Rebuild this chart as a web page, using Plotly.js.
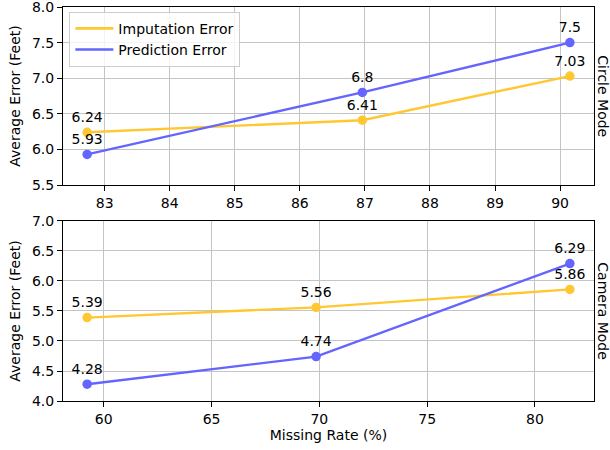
<!DOCTYPE html>
<html>
<head>
<meta charset="utf-8">
<script src="https://cdn.plot.ly/plotly-3.0.1.min.js"></script>
<style>html,body{margin:0;padding:0;background:#fff;}#chart{width:610px;height:450px;}</style>
</head>
<body>
<div id="chart"></div>
<script>
// Circle Mode data
const circleMissingRate = [82.73, 86.96, 90.15];
const circleImputation = [6.24, 6.41, 7.03];
const circlePrediction = [5.93, 6.8, 7.5];
// Camera Mode data
const cameraMissingRate = [59.23, 69.85, 81.62];
const cameraImputation = [5.39, 5.56, 5.86];
const cameraPrediction = [4.28, 4.74, 6.29];

const seriesNames = ["Imputation Error", "Prediction Error"];
const panelLabels = ["Circle Mode", "Camera Mode"];
const yTitle = "Average Error (Feet)";
const xTitle = "Missing Rate (%)";

const YELLOW = "#ffc832";
const BLUE = "#6464ff";
const FONT = "DejaVu Sans, sans-serif";
const FS = 14;

function pad(arr) {
  const mn = Math.min(...arr), mx = Math.max(...arr), s = mx - mn;
  return [mn - 0.05 * s, mx + 0.05 * s];
}

function trace(x, y, name, color, xa, ya) {
  return {
    x: x, y: y, name: name, xaxis: xa, yaxis: ya, showlegend: false,
    mode: "lines+markers+text", type: "scatter",
    text: y.map(v => String(v)), textposition: "top center",
    textfont: {family: FONT, size: FS, color: "#000"},
    line: {color: color, width: 2.4},
    marker: {color: color, size: 9.5},
    cliponaxis: false
  };
}
// legend proxies (line only, like the reference legend)
function legendProxy(name, color) {
  return {x: [null], y: [null], name: name, mode: "lines", type: "scatter",
    xaxis: "x", yaxis: "y", line: {color: color, width: 2.6}, showlegend: true, hoverinfo: "skip"};
}

const data = [
  trace(circleMissingRate, circleImputation, seriesNames[0], YELLOW, "x", "y"),
  trace(circleMissingRate, circlePrediction, seriesNames[1], BLUE, "x", "y"),
  trace(cameraMissingRate, cameraImputation, seriesNames[0], YELLOW, "x2", "y2"),
  trace(cameraMissingRate, cameraPrediction, seriesNames[1], BLUE, "x2", "y2"),
  legendProxy(seriesNames[0], YELLOW),
  legendProxy(seriesNames[1], BLUE)
];

const axCommon = {
  showline: true, linecolor: "#000", linewidth: 1, mirror: true,
  ticks: "outside", ticklen: 5, tickwidth: 1, tickcolor: "#000",
  showgrid: true, gridcolor: "#c4c4c4", gridwidth: 1, zeroline: false,
  ticklabeloverflow: "allow",
  tickfont: {family: FONT, size: FS, color: "#000"}
};

const layout = {
  width: 610, height: 450,
  margin: {l: 63, r: 16, t: 7, b: 49},
  paper_bgcolor: "#fff", plot_bgcolor: "#fff",
  font: {family: FONT, size: FS, color: "#000"},
  xaxis: Object.assign({}, axCommon, {domain: [0, 1], anchor: "y", range: pad(circleMissingRate), dtick: 1, tick0: 0}),
  yaxis: Object.assign({}, axCommon, {domain: [0.5482, 1], anchor: "x", range: [5.5, 8.0001], dtick: 0.5, tick0: 0, tickformat: ".1f",
    title: {text: yTitle, font: {family: FONT, size: FS, color: "#000"}, standoff: 8}}),
  xaxis2: Object.assign({}, axCommon, {domain: [0, 1], anchor: "y2", range: pad(cameraMissingRate), dtick: 5, tick0: 0,
    title: {text: xTitle, font: {family: FONT, size: FS, color: "#000"}, standoff: 4}}),
  yaxis2: Object.assign({}, axCommon, {domain: [0, 0.4569], anchor: "x2", range: [4.0, 7.0001], dtick: 0.5, tick0: 0, tickformat: ".1f",
    title: {text: yTitle, font: {family: FONT, size: FS, color: "#000"}, standoff: 8}}),
  legend: {
    x: 0.012, y: 0.988, xanchor: "left", yanchor: "top",
    bgcolor: "rgba(255,255,255,0.8)", bordercolor: "#cccccc", borderwidth: 1,
    itemwidth: 38,
    font: {family: FONT, size: FS, color: "#000"}
  },
  annotations: [
    {text: panelLabels[0], xref: "paper", yref: "paper", x: 1.0164, y: 0.7741, xanchor: "center", yanchor: "middle",
     textangle: 90, showarrow: false, font: {family: FONT, size: FS, color: "#000"}},
    {text: panelLabels[1], xref: "paper", yref: "paper", x: 1.0164, y: 0.2284, xanchor: "center", yanchor: "middle",
     textangle: 90, showarrow: false, font: {family: FONT, size: FS, color: "#000"}}
  ]
};

Plotly.newPlot("chart", data, layout, {displayModeBar: false, staticPlot: true});
</script>
</body>
</html>
